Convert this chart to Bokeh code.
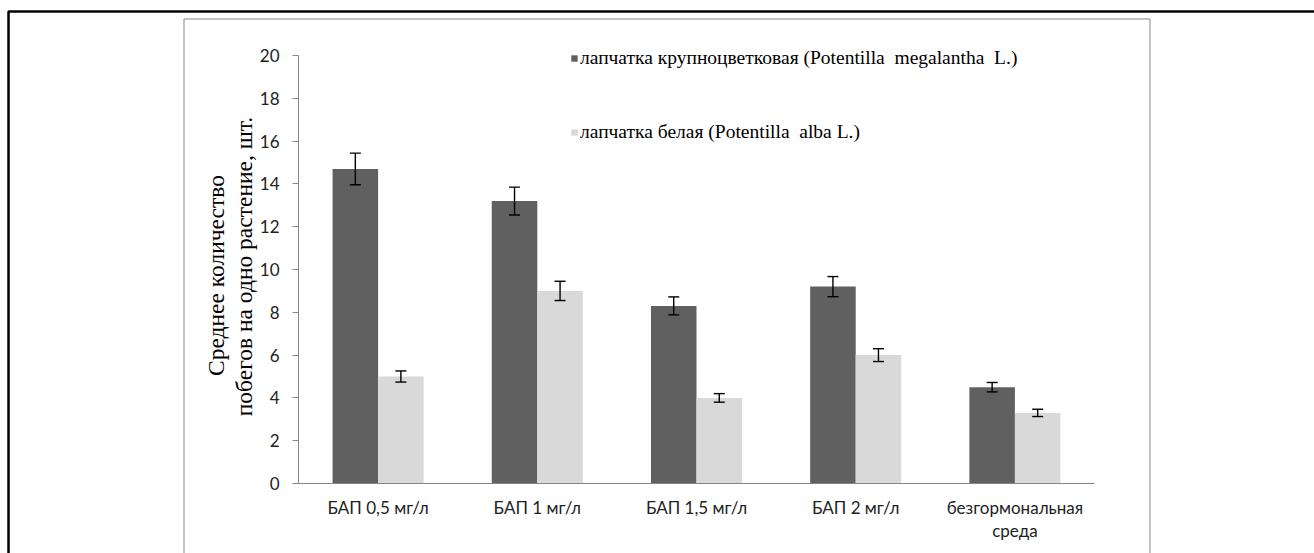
from bokeh.plotting import figure
from bokeh.models import (ColumnDataSource, Whisker, TeeHead, FixedTicker, Range1d,
                          Legend, LegendItem, Label, BoxAnnotation)
from bokeh.embed import file_html
from bokeh.resources import INLINE

# ---- data ----
categories = ["БАП 0,5 мг/л", "БАП 1 мг/л", "БАП 1,5 мг/л", "БАП 2 мг/л", "безгормональная\nсреда"]
megalantha = [14.7, 13.2, 8.3, 9.2, 4.5]
megalantha_err = [0.74, 0.65, 0.42, 0.47, 0.22]
alba = [5.0, 9.0, 4.0, 6.0, 3.3]
alba_err = [0.26, 0.45, 0.2, 0.3, 0.17]
series_names = ["лапчатка крупноцветковая (Potentilla  megalantha  L.)",
                "лапчатка белая (Potentilla  alba L.)"]
y_ticks = [0, 2, 4, 6, 8, 10, 12, 14, 16, 18, 20]
y_title = ["Среднее количество", "побегов на одно растение, шт."]

DARK = "#606060"
LIGHT = "#d9d9d9"
AXIS = "#868686"
W, H = 1314, 553
X0, Y0 = 298.0, 483.0          # pixel position of the axes origin
PX_X, PX_Y = 159.2, 21.4       # pixels per category / per unit

centers = [i + 0.5 for i in range(len(categories))]
off, bw = 0.143, 0.286

src = ColumnDataSource(dict(
    xm=[c - off for c in centers], xa=[c + off for c in centers],
    m=megalantha, m_up=[v + e for v, e in zip(megalantha, megalantha_err)],
    m_lo=[v - e for v, e in zip(megalantha, megalantha_err)],
    a=alba, a_up=[v + e for v, e in zip(alba, alba_err)],
    a_lo=[v - e for v, e in zip(alba, alba_err)],
))

p = figure(width=W, height=H, output_backend="svg", toolbar_location=None,
           x_range=Range1d(-X0 / PX_X, (W - X0) / PX_X),
           y_range=Range1d(-(H - Y0) / PX_Y, Y0 / PX_Y),
           min_border=0)
p.outline_line_color = None
p.grid.grid_line_color = None
p.background_fill_color = "white"
p.border_fill_color = "white"

r1 = p.vbar(x="xm", top="m", width=bw, source=src, fill_color=DARK, line_color=None)
r2 = p.vbar(x="xa", top="a", width=bw, source=src, fill_color=LIGHT, line_color=None)

for base, up, lo in [("xm", "m_up", "m_lo"), ("xa", "a_up", "a_lo")]:
    p.add_layout(Whisker(base=base, upper=up, lower=lo, source=src, level="overlay",
                         line_color="black", line_width=1.4,
                         upper_head=TeeHead(size=11, line_color="black", line_width=1.4),
                         lower_head=TeeHead(size=11, line_color="black", line_width=1.4)))

# axes drawn at the data origin
p.yaxis.fixed_location = 0
p.yaxis.bounds = (y_ticks[0], y_ticks[-1])
p.yaxis.ticker = FixedTicker(ticks=y_ticks)
p.yaxis.axis_line_color = AXIS
p.yaxis.major_tick_line_color = AXIS
p.yaxis.major_tick_out = 6
p.yaxis.major_tick_in = 0
p.yaxis.minor_tick_line_color = None
p.yaxis.major_label_standoff = 13
p.yaxis.major_label_text_font = "Lato"
p.yaxis.major_label_text_font_size = "17px"
p.yaxis.major_label_text_color = "#222222"

p.xaxis.fixed_location = 0
p.xaxis.bounds = (0, len(categories))
p.xaxis.ticker = FixedTicker(ticks=centers)
p.xaxis.major_label_overrides = {c: name for c, name in zip(centers, categories)}
p.xaxis.axis_line_color = AXIS
p.xaxis.major_tick_line_color = None
p.xaxis.minor_tick_line_color = None
p.xaxis.major_tick_out = 0
p.xaxis.major_label_standoff = 13
p.xaxis.major_label_text_font = "Lato"
p.xaxis.major_label_text_font_size = "17px"
p.xaxis.major_label_text_color = "#222222"
p.xaxis.major_label_text_line_height = 1.1

# y title as two rotated lines (screen units: x from left, y from bottom)
for txt, xs, yc in zip(y_title, [215, 243], [275, 266]):
    p.add_layout(Label(x=xs, y=H - yc, x_units="screen", y_units="screen", text=txt,
                       angle=90, angle_units="deg", text_align="center", text_baseline="middle",
                       text_font="Liberation Serif", text_font_size="23.5px",
                       text_color="black"))

# legend
legend = Legend(items=[LegendItem(label=series_names[0], renderers=[r1]),
                       LegendItem(label=series_names[1], renderers=[r2])],
                location=(570, H - 143), orientation="vertical",
                glyph_width=8, glyph_height=8, label_height=20, spacing=52,
                label_standoff=2, padding=0, margin=0,
                border_line_color=None, background_fill_alpha=0,
                label_text_font="Liberation Serif", label_text_font_size="19.5px",
                label_text_color="black")
p.add_layout(legend)

# frames around the chart
p.add_layout(BoxAnnotation(left=8, right=W + 20, top=H - 11, bottom=-50,
                           left_units="screen", right_units="screen",
                           top_units="screen", bottom_units="screen",
                           fill_alpha=0, line_alpha=1, line_color="black", line_width=2.5))
p.add_layout(BoxAnnotation(left=183.5, right=1149.5, top=H - 18.5, bottom=-50,
                           left_units="screen", right_units="screen",
                           top_units="screen", bottom_units="screen",
                           fill_alpha=0, line_alpha=1, line_color=AXIS, line_width=1))

open("out.html", "w").write(file_html(p, INLINE))
